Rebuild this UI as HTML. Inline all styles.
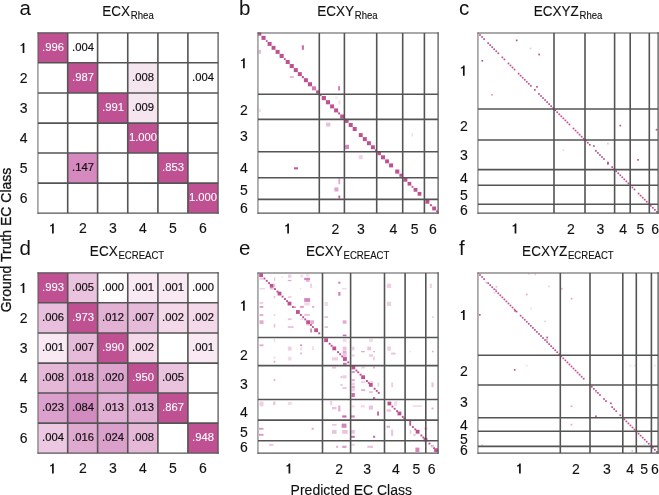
<!DOCTYPE html>
<html><head><meta charset="utf-8"><style>
html,body{margin:0;padding:0;background:#fff;width:659px;height:495px;overflow:hidden}
svg{display:block;will-change:transform}
text{font-family:"Liberation Sans", sans-serif}
</style></head><body>
<svg width="659" height="495" viewBox="0 0 659 495" font-family='"Liberation Sans", sans-serif'>
<rect width="659" height="495" fill="#fff"/>
<rect x="38.00" y="32.95" width="30.00" height="30.00" fill="#bf5091"/>
<rect x="68.00" y="62.95" width="30.00" height="30.00" fill="#bf5091"/>
<rect x="128.00" y="62.95" width="30.00" height="30.00" fill="#f5e5ef"/>
<rect x="98.00" y="92.95" width="30.00" height="30.00" fill="#bf5091"/>
<rect x="128.00" y="92.95" width="30.00" height="30.00" fill="#f5e5ef"/>
<rect x="128.00" y="122.95" width="30.00" height="30.00" fill="#bf5091"/>
<rect x="68.00" y="152.95" width="30.00" height="30.00" fill="#d689be"/>
<rect x="158.00" y="152.95" width="30.00" height="30.00" fill="#bf5091"/>
<rect x="188.00" y="182.95" width="30.00" height="30.00" fill="#bf5091"/>
<line x1="67.70" y1="32.90" x2="67.70" y2="213.05" stroke="#545454" stroke-width="1.6"/>
<line x1="97.60" y1="32.90" x2="97.60" y2="213.05" stroke="#545454" stroke-width="1.6"/>
<line x1="127.75" y1="32.90" x2="127.75" y2="213.05" stroke="#545454" stroke-width="1.6"/>
<line x1="157.90" y1="32.90" x2="157.90" y2="213.05" stroke="#545454" stroke-width="1.6"/>
<line x1="187.90" y1="32.90" x2="187.90" y2="213.05" stroke="#545454" stroke-width="1.6"/>
<line x1="37.95" y1="62.75" x2="218.10" y2="62.75" stroke="#545454" stroke-width="1.6"/>
<line x1="37.95" y1="92.95" x2="218.10" y2="92.95" stroke="#545454" stroke-width="1.6"/>
<line x1="37.95" y1="123.15" x2="218.10" y2="123.15" stroke="#545454" stroke-width="1.6"/>
<line x1="37.95" y1="153.05" x2="218.10" y2="153.05" stroke="#545454" stroke-width="1.6"/>
<line x1="37.95" y1="183.15" x2="218.10" y2="183.15" stroke="#545454" stroke-width="1.6"/>
<line x1="37.95" y1="32.30" x2="37.95" y2="213.75" stroke="#545454" stroke-width="0.9"/>
<line x1="218.10" y1="32.30" x2="218.10" y2="213.75" stroke="#545454" stroke-width="1.25"/>
<line x1="37.50" y1="32.90" x2="218.70" y2="32.90" stroke="#545454" stroke-width="1.15"/>
<line x1="37.50" y1="213.05" x2="218.70" y2="213.05" stroke="#545454" stroke-width="1.3"/>
<text transform="translate(53.00,50.65) scale(0.97,1)" x="0" y="0" font-size="11.6" text-anchor="middle" fill="#ffffff" stroke="#ffffff" stroke-width="0.1" >.996</text>
<text transform="translate(83.00,50.65) scale(0.97,1)" x="0" y="0" font-size="11.6" text-anchor="middle" fill="#111111" stroke="#111111" stroke-width="0.2" >.004</text>
<text transform="translate(83.00,80.65) scale(0.97,1)" x="0" y="0" font-size="11.6" text-anchor="middle" fill="#ffffff" stroke="#ffffff" stroke-width="0.1" >.987</text>
<text transform="translate(143.00,80.65) scale(0.97,1)" x="0" y="0" font-size="11.6" text-anchor="middle" fill="#111111" stroke="#111111" stroke-width="0.2" >.008</text>
<text transform="translate(203.00,80.65) scale(0.97,1)" x="0" y="0" font-size="11.6" text-anchor="middle" fill="#111111" stroke="#111111" stroke-width="0.2" >.004</text>
<text transform="translate(113.00,110.65) scale(0.97,1)" x="0" y="0" font-size="11.6" text-anchor="middle" fill="#ffffff" stroke="#ffffff" stroke-width="0.1" >.991</text>
<text transform="translate(143.00,110.65) scale(0.97,1)" x="0" y="0" font-size="11.6" text-anchor="middle" fill="#111111" stroke="#111111" stroke-width="0.2" >.009</text>
<text transform="translate(143.00,140.65) scale(0.97,1)" x="0" y="0" font-size="11.6" text-anchor="middle" fill="#ffffff" stroke="#ffffff" stroke-width="0.1" >1.000</text>
<text transform="translate(83.00,170.65) scale(0.97,1)" x="0" y="0" font-size="11.6" text-anchor="middle" fill="#111111" stroke="#111111" stroke-width="0.2" >.147</text>
<text transform="translate(173.00,170.65) scale(0.97,1)" x="0" y="0" font-size="11.6" text-anchor="middle" fill="#ffffff" stroke="#ffffff" stroke-width="0.1" >.853</text>
<text transform="translate(203.00,200.65) scale(0.97,1)" x="0" y="0" font-size="11.6" text-anchor="middle" fill="#ffffff" stroke="#ffffff" stroke-width="0.1" >1.000</text>
<path d="M22.65,53.00 L24.35,53.00 L24.35,42.90 L23.00,42.90 C22.75,44.05 21.40,44.75 20.55,45.05 L20.55,46.00 C21.30,46.00 22.55,45.75 22.65,45.35 Z" fill="#111"/>
<path d="M52.05,233.50 L53.75,233.50 L53.75,223.40 L52.40,223.40 C52.15,224.55 50.80,225.25 49.95,225.55 L49.95,226.50 C50.70,226.50 51.95,226.25 52.05,225.85 Z" fill="#111"/>
<text x="23.60" y="82.95" font-size="14" text-anchor="middle" fill="#111" stroke="#111" stroke-width="0.12" >2</text>
<text x="83.00" y="233.45" font-size="14" text-anchor="middle" fill="#111" stroke="#111" stroke-width="0.12" >2</text>
<text x="23.60" y="112.95" font-size="14" text-anchor="middle" fill="#111" stroke="#111" stroke-width="0.12" >3</text>
<text x="113.00" y="233.45" font-size="14" text-anchor="middle" fill="#111" stroke="#111" stroke-width="0.12" >3</text>
<text x="23.60" y="142.95" font-size="14" text-anchor="middle" fill="#111" stroke="#111" stroke-width="0.12" >4</text>
<text x="143.00" y="233.45" font-size="14" text-anchor="middle" fill="#111" stroke="#111" stroke-width="0.12" >4</text>
<text x="23.60" y="172.95" font-size="14" text-anchor="middle" fill="#111" stroke="#111" stroke-width="0.12" >5</text>
<text x="173.00" y="233.45" font-size="14" text-anchor="middle" fill="#111" stroke="#111" stroke-width="0.12" >5</text>
<text x="23.60" y="202.95" font-size="14" text-anchor="middle" fill="#111" stroke="#111" stroke-width="0.12" >6</text>
<text x="203.00" y="233.45" font-size="14" text-anchor="middle" fill="#111" stroke="#111" stroke-width="0.12" >6</text>
<rect x="38.00" y="272.95" width="30.00" height="30.00" fill="#bf5091"/>
<rect x="68.00" y="272.95" width="30.00" height="30.00" fill="#eac3df"/>
<rect x="98.00" y="272.95" width="30.00" height="30.00" fill="#fefcfd"/>
<rect x="128.00" y="272.95" width="30.00" height="30.00" fill="#f9e9f3"/>
<rect x="158.00" y="272.95" width="30.00" height="30.00" fill="#f9e9f3"/>
<rect x="188.00" y="272.95" width="30.00" height="30.00" fill="#fefcfd"/>
<rect x="38.00" y="302.95" width="30.00" height="30.00" fill="#e8bfdc"/>
<rect x="68.00" y="302.95" width="30.00" height="30.00" fill="#bf5091"/>
<rect x="98.00" y="302.95" width="30.00" height="30.00" fill="#e2b1d4"/>
<rect x="128.00" y="302.95" width="30.00" height="30.00" fill="#e6bbda"/>
<rect x="158.00" y="302.95" width="30.00" height="30.00" fill="#f3d9ea"/>
<rect x="188.00" y="302.95" width="30.00" height="30.00" fill="#f3d9ea"/>
<rect x="38.00" y="332.95" width="30.00" height="30.00" fill="#f9e9f3"/>
<rect x="68.00" y="332.95" width="30.00" height="30.00" fill="#e6bbda"/>
<rect x="98.00" y="332.95" width="30.00" height="30.00" fill="#bf5091"/>
<rect x="128.00" y="332.95" width="30.00" height="30.00" fill="#f3d9ea"/>
<rect x="188.00" y="332.95" width="30.00" height="30.00" fill="#f9e9f3"/>
<rect x="38.00" y="362.95" width="30.00" height="30.00" fill="#e5b8d8"/>
<rect x="68.00" y="362.95" width="30.00" height="30.00" fill="#dea7cf"/>
<rect x="98.00" y="362.95" width="30.00" height="30.00" fill="#dca5ce"/>
<rect x="128.00" y="362.95" width="30.00" height="30.00" fill="#bf5091"/>
<rect x="158.00" y="362.95" width="30.00" height="30.00" fill="#eac3df"/>
<rect x="38.00" y="392.95" width="30.00" height="30.00" fill="#dba1cc"/>
<rect x="68.00" y="392.95" width="30.00" height="30.00" fill="#d28bbf"/>
<rect x="98.00" y="392.95" width="30.00" height="30.00" fill="#e1afd3"/>
<rect x="128.00" y="392.95" width="30.00" height="30.00" fill="#e1afd3"/>
<rect x="158.00" y="392.95" width="30.00" height="30.00" fill="#bf5091"/>
<rect x="38.00" y="422.95" width="30.00" height="30.00" fill="#ecc8e2"/>
<rect x="68.00" y="422.95" width="30.00" height="30.00" fill="#dfaad0"/>
<rect x="98.00" y="422.95" width="30.00" height="30.00" fill="#daa0cb"/>
<rect x="128.00" y="422.95" width="30.00" height="30.00" fill="#e5b8d8"/>
<rect x="188.00" y="422.95" width="30.00" height="30.00" fill="#bf5091"/>
<line x1="67.70" y1="272.90" x2="67.70" y2="453.05" stroke="#545454" stroke-width="1.6"/>
<line x1="97.60" y1="272.90" x2="97.60" y2="453.05" stroke="#545454" stroke-width="1.6"/>
<line x1="127.75" y1="272.90" x2="127.75" y2="453.05" stroke="#545454" stroke-width="1.6"/>
<line x1="157.90" y1="272.90" x2="157.90" y2="453.05" stroke="#545454" stroke-width="1.6"/>
<line x1="187.90" y1="272.90" x2="187.90" y2="453.05" stroke="#545454" stroke-width="1.6"/>
<line x1="37.95" y1="302.75" x2="218.10" y2="302.75" stroke="#545454" stroke-width="1.6"/>
<line x1="37.95" y1="332.95" x2="218.10" y2="332.95" stroke="#545454" stroke-width="1.6"/>
<line x1="37.95" y1="363.15" x2="218.10" y2="363.15" stroke="#545454" stroke-width="1.6"/>
<line x1="37.95" y1="393.05" x2="218.10" y2="393.05" stroke="#545454" stroke-width="1.6"/>
<line x1="37.95" y1="423.15" x2="218.10" y2="423.15" stroke="#545454" stroke-width="1.6"/>
<line x1="37.95" y1="272.30" x2="37.95" y2="453.75" stroke="#545454" stroke-width="0.9"/>
<line x1="218.10" y1="272.30" x2="218.10" y2="453.75" stroke="#545454" stroke-width="1.25"/>
<line x1="37.50" y1="272.90" x2="218.70" y2="272.90" stroke="#545454" stroke-width="1.15"/>
<line x1="37.50" y1="453.05" x2="218.70" y2="453.05" stroke="#545454" stroke-width="1.3"/>
<text transform="translate(53.00,290.65) scale(0.97,1)" x="0" y="0" font-size="11.6" text-anchor="middle" fill="#ffffff" stroke="#ffffff" stroke-width="0.1" >.993</text>
<text transform="translate(83.00,290.65) scale(0.97,1)" x="0" y="0" font-size="11.6" text-anchor="middle" fill="#111111" stroke="#111111" stroke-width="0.2" >.005</text>
<text transform="translate(113.00,290.65) scale(0.97,1)" x="0" y="0" font-size="11.6" text-anchor="middle" fill="#111111" stroke="#111111" stroke-width="0.2" >.000</text>
<text transform="translate(143.00,290.65) scale(0.97,1)" x="0" y="0" font-size="11.6" text-anchor="middle" fill="#111111" stroke="#111111" stroke-width="0.2" >.001</text>
<text transform="translate(173.00,290.65) scale(0.97,1)" x="0" y="0" font-size="11.6" text-anchor="middle" fill="#111111" stroke="#111111" stroke-width="0.2" >.001</text>
<text transform="translate(203.00,290.65) scale(0.97,1)" x="0" y="0" font-size="11.6" text-anchor="middle" fill="#111111" stroke="#111111" stroke-width="0.2" >.000</text>
<text transform="translate(53.00,320.65) scale(0.97,1)" x="0" y="0" font-size="11.6" text-anchor="middle" fill="#111111" stroke="#111111" stroke-width="0.2" >.006</text>
<text transform="translate(83.00,320.65) scale(0.97,1)" x="0" y="0" font-size="11.6" text-anchor="middle" fill="#ffffff" stroke="#ffffff" stroke-width="0.1" >.973</text>
<text transform="translate(113.00,320.65) scale(0.97,1)" x="0" y="0" font-size="11.6" text-anchor="middle" fill="#111111" stroke="#111111" stroke-width="0.2" >.012</text>
<text transform="translate(143.00,320.65) scale(0.97,1)" x="0" y="0" font-size="11.6" text-anchor="middle" fill="#111111" stroke="#111111" stroke-width="0.2" >.007</text>
<text transform="translate(173.00,320.65) scale(0.97,1)" x="0" y="0" font-size="11.6" text-anchor="middle" fill="#111111" stroke="#111111" stroke-width="0.2" >.002</text>
<text transform="translate(203.00,320.65) scale(0.97,1)" x="0" y="0" font-size="11.6" text-anchor="middle" fill="#111111" stroke="#111111" stroke-width="0.2" >.002</text>
<text transform="translate(53.00,350.65) scale(0.97,1)" x="0" y="0" font-size="11.6" text-anchor="middle" fill="#111111" stroke="#111111" stroke-width="0.2" >.001</text>
<text transform="translate(83.00,350.65) scale(0.97,1)" x="0" y="0" font-size="11.6" text-anchor="middle" fill="#111111" stroke="#111111" stroke-width="0.2" >.007</text>
<text transform="translate(113.00,350.65) scale(0.97,1)" x="0" y="0" font-size="11.6" text-anchor="middle" fill="#ffffff" stroke="#ffffff" stroke-width="0.1" >.990</text>
<text transform="translate(143.00,350.65) scale(0.97,1)" x="0" y="0" font-size="11.6" text-anchor="middle" fill="#111111" stroke="#111111" stroke-width="0.2" >.002</text>
<text transform="translate(203.00,350.65) scale(0.97,1)" x="0" y="0" font-size="11.6" text-anchor="middle" fill="#111111" stroke="#111111" stroke-width="0.2" >.001</text>
<text transform="translate(53.00,380.65) scale(0.97,1)" x="0" y="0" font-size="11.6" text-anchor="middle" fill="#111111" stroke="#111111" stroke-width="0.2" >.008</text>
<text transform="translate(83.00,380.65) scale(0.97,1)" x="0" y="0" font-size="11.6" text-anchor="middle" fill="#111111" stroke="#111111" stroke-width="0.2" >.018</text>
<text transform="translate(113.00,380.65) scale(0.97,1)" x="0" y="0" font-size="11.6" text-anchor="middle" fill="#111111" stroke="#111111" stroke-width="0.2" >.020</text>
<text transform="translate(143.00,380.65) scale(0.97,1)" x="0" y="0" font-size="11.6" text-anchor="middle" fill="#ffffff" stroke="#ffffff" stroke-width="0.1" >.950</text>
<text transform="translate(173.00,380.65) scale(0.97,1)" x="0" y="0" font-size="11.6" text-anchor="middle" fill="#111111" stroke="#111111" stroke-width="0.2" >.005</text>
<text transform="translate(53.00,410.65) scale(0.97,1)" x="0" y="0" font-size="11.6" text-anchor="middle" fill="#111111" stroke="#111111" stroke-width="0.2" >.023</text>
<text transform="translate(83.00,410.65) scale(0.97,1)" x="0" y="0" font-size="11.6" text-anchor="middle" fill="#111111" stroke="#111111" stroke-width="0.2" >.084</text>
<text transform="translate(113.00,410.65) scale(0.97,1)" x="0" y="0" font-size="11.6" text-anchor="middle" fill="#111111" stroke="#111111" stroke-width="0.2" >.013</text>
<text transform="translate(143.00,410.65) scale(0.97,1)" x="0" y="0" font-size="11.6" text-anchor="middle" fill="#111111" stroke="#111111" stroke-width="0.2" >.013</text>
<text transform="translate(173.00,410.65) scale(0.97,1)" x="0" y="0" font-size="11.6" text-anchor="middle" fill="#ffffff" stroke="#ffffff" stroke-width="0.1" >.867</text>
<text transform="translate(53.00,440.65) scale(0.97,1)" x="0" y="0" font-size="11.6" text-anchor="middle" fill="#111111" stroke="#111111" stroke-width="0.2" >.004</text>
<text transform="translate(83.00,440.65) scale(0.97,1)" x="0" y="0" font-size="11.6" text-anchor="middle" fill="#111111" stroke="#111111" stroke-width="0.2" >.016</text>
<text transform="translate(113.00,440.65) scale(0.97,1)" x="0" y="0" font-size="11.6" text-anchor="middle" fill="#111111" stroke="#111111" stroke-width="0.2" >.024</text>
<text transform="translate(143.00,440.65) scale(0.97,1)" x="0" y="0" font-size="11.6" text-anchor="middle" fill="#111111" stroke="#111111" stroke-width="0.2" >.008</text>
<text transform="translate(203.00,440.65) scale(0.97,1)" x="0" y="0" font-size="11.6" text-anchor="middle" fill="#ffffff" stroke="#ffffff" stroke-width="0.1" >.948</text>
<path d="M22.65,293.00 L24.35,293.00 L24.35,282.90 L23.00,282.90 C22.75,284.05 21.40,284.75 20.55,285.05 L20.55,286.00 C21.30,286.00 22.55,285.75 22.65,285.35 Z" fill="#111"/>
<path d="M52.05,473.50 L53.75,473.50 L53.75,463.40 L52.40,463.40 C52.15,464.55 50.80,465.25 49.95,465.55 L49.95,466.50 C50.70,466.50 51.95,466.25 52.05,465.85 Z" fill="#111"/>
<text x="23.60" y="322.95" font-size="14" text-anchor="middle" fill="#111" stroke="#111" stroke-width="0.12" >2</text>
<text x="83.00" y="473.45" font-size="14" text-anchor="middle" fill="#111" stroke="#111" stroke-width="0.12" >2</text>
<text x="23.60" y="352.95" font-size="14" text-anchor="middle" fill="#111" stroke="#111" stroke-width="0.12" >3</text>
<text x="113.00" y="473.45" font-size="14" text-anchor="middle" fill="#111" stroke="#111" stroke-width="0.12" >3</text>
<text x="23.60" y="382.95" font-size="14" text-anchor="middle" fill="#111" stroke="#111" stroke-width="0.12" >4</text>
<text x="143.00" y="473.45" font-size="14" text-anchor="middle" fill="#111" stroke="#111" stroke-width="0.12" >4</text>
<text x="23.60" y="412.95" font-size="14" text-anchor="middle" fill="#111" stroke="#111" stroke-width="0.12" >5</text>
<text x="173.00" y="473.45" font-size="14" text-anchor="middle" fill="#111" stroke="#111" stroke-width="0.12" >5</text>
<text x="23.60" y="442.95" font-size="14" text-anchor="middle" fill="#111" stroke="#111" stroke-width="0.12" >6</text>
<text x="203.00" y="473.45" font-size="14" text-anchor="middle" fill="#111" stroke="#111" stroke-width="0.12" >6</text>
<rect x="258.20" y="32.50" width="3.10" height="3.10" fill="#bf5091"/>
<rect x="261.50" y="35.80" width="4.10" height="4.10" fill="#bf5091"/>
<rect x="265.90" y="40.20" width="1.70" height="1.70" fill="#bf5091"/>
<rect x="267.60" y="41.90" width="4.00" height="4.00" fill="#bf5091"/>
<rect x="271.60" y="45.90" width="3.90" height="3.90" fill="#bf5091"/>
<rect x="275.60" y="49.90" width="4.00" height="4.00" fill="#bf5091"/>
<rect x="279.60" y="53.90" width="4.10" height="4.10" fill="#bf5091"/>
<rect x="283.90" y="58.20" width="1.80" height="1.80" fill="#bf5091"/>
<rect x="285.70" y="60.00" width="4.00" height="4.00" fill="#bf5091"/>
<rect x="289.70" y="64.00" width="4.10" height="4.10" fill="#bf5091"/>
<rect x="293.80" y="68.10" width="4.00" height="4.00" fill="#bf5091"/>
<rect x="297.80" y="72.10" width="4.00" height="4.00" fill="#bf5091"/>
<rect x="301.80" y="76.10" width="2.10" height="2.10" fill="#bf5091"/>
<rect x="303.90" y="78.20" width="4.00" height="4.00" fill="#bf5091"/>
<rect x="307.90" y="82.20" width="4.10" height="4.10" fill="#bf5091"/>
<rect x="316.10" y="90.40" width="3.20" height="3.20" fill="#bf5091"/>
<rect x="319.70" y="94.00" width="1.90" height="1.90" fill="#bf5091"/>
<rect x="321.70" y="96.00" width="4.20" height="4.20" fill="#bf5091"/>
<rect x="325.90" y="100.20" width="4.10" height="4.10" fill="#bf5091"/>
<rect x="330.10" y="104.40" width="4.00" height="4.00" fill="#bf5091"/>
<rect x="334.10" y="108.40" width="4.00" height="4.00" fill="#bf5091"/>
<rect x="338.10" y="112.40" width="2.00" height="2.00" fill="#bf5091"/>
<rect x="340.20" y="114.50" width="4.10" height="4.10" fill="#bf5091"/>
<rect x="344.60" y="118.90" width="4.00" height="4.00" fill="#bf5091"/>
<rect x="348.70" y="123.00" width="4.00" height="4.00" fill="#bf5091"/>
<rect x="352.70" y="127.00" width="4.00" height="4.00" fill="#bf5091"/>
<rect x="358.80" y="133.10" width="3.90" height="3.90" fill="#bf5091"/>
<rect x="362.80" y="137.10" width="4.00" height="4.00" fill="#bf5091"/>
<rect x="366.90" y="141.20" width="4.00" height="4.00" fill="#bf5091"/>
<rect x="371.00" y="145.30" width="3.90" height="3.90" fill="#bf5091"/>
<rect x="375.00" y="149.30" width="1.80" height="1.80" fill="#bf5091"/>
<rect x="377.50" y="151.80" width="3.40" height="3.40" fill="#bf5091"/>
<rect x="381.00" y="155.30" width="4.00" height="4.00" fill="#bf5091"/>
<rect x="385.10" y="159.40" width="3.90" height="3.90" fill="#bf5091"/>
<rect x="389.10" y="163.40" width="4.00" height="4.00" fill="#bf5091"/>
<rect x="395.20" y="169.50" width="4.10" height="4.10" fill="#bf5091"/>
<rect x="399.40" y="173.70" width="3.10" height="3.10" fill="#bf5091"/>
<rect x="403.40" y="177.70" width="4.00" height="4.00" fill="#bf5091"/>
<rect x="407.60" y="181.90" width="3.70" height="3.70" fill="#bf5091"/>
<rect x="411.60" y="185.90" width="1.80" height="1.80" fill="#bf5091"/>
<rect x="413.60" y="187.90" width="3.80" height="3.80" fill="#bf5091"/>
<rect x="417.60" y="191.90" width="3.80" height="3.80" fill="#bf5091"/>
<rect x="425.40" y="199.70" width="4.00" height="4.00" fill="#bf5091"/>
<rect x="429.90" y="204.20" width="2.00" height="2.00" fill="#bf5091"/>
<rect x="432.20" y="206.50" width="3.90" height="3.90" fill="#bf5091"/>
<rect x="436.10" y="210.40" width="1.90" height="1.90" fill="#bf5091"/>
<rect x="312.00" y="86.30" width="4.10" height="4.10" fill="#d27ab5"/>
<rect x="258.70" y="49.80" width="2.40" height="4.00" fill="#eab8d8"/>
<rect x="301.80" y="45.30" width="2.10" height="4.50" fill="#cc6aa8"/>
<rect x="289.70" y="76.10" width="4.10" height="1.80" fill="#e8b5d6"/>
<rect x="338.20" y="86.20" width="1.80" height="4.30" fill="#cf74ae"/>
<rect x="334.80" y="96.50" width="2.80" height="2.80" fill="#f6e9f2"/>
<rect x="338.50" y="100.20" width="1.80" height="4.20" fill="#f2dcea"/>
<rect x="326.10" y="122.60" width="4.30" height="3.90" fill="#e9c0dc"/>
<rect x="258.80" y="108.80" width="1.80" height="3.20" fill="#f3dbe9"/>
<rect x="294.00" y="167.30" width="4.00" height="2.10" fill="#c75b9e"/>
<rect x="345.10" y="144.80" width="3.90" height="4.30" fill="#d88ac0"/>
<rect x="358.70" y="155.20" width="4.00" height="4.00" fill="#f0d3e6"/>
<rect x="338.40" y="178.20" width="1.80" height="6.00" fill="#e3a9d1"/>
<rect x="334.40" y="187.50" width="4.00" height="4.00" fill="#e0a3ce"/>
<rect x="338.40" y="195.50" width="1.80" height="2.90" fill="#c65ba0"/>
<rect x="411.50" y="133.00" width="1.50" height="3.60" fill="#f5e1ee"/>
<line x1="319.30" y1="32.95" x2="319.30" y2="213.10" stroke="#545454" stroke-width="1.6"/>
<line x1="344.40" y1="32.95" x2="344.40" y2="213.10" stroke="#545454" stroke-width="1.6"/>
<line x1="376.70" y1="32.95" x2="376.70" y2="213.10" stroke="#545454" stroke-width="1.6"/>
<line x1="402.70" y1="32.95" x2="402.70" y2="213.10" stroke="#545454" stroke-width="1.6"/>
<line x1="424.40" y1="32.95" x2="424.40" y2="213.10" stroke="#545454" stroke-width="1.6"/>
<line x1="257.95" y1="94.30" x2="438.10" y2="94.30" stroke="#545454" stroke-width="1.6"/>
<line x1="257.95" y1="119.40" x2="438.10" y2="119.40" stroke="#545454" stroke-width="1.6"/>
<line x1="257.95" y1="151.70" x2="438.10" y2="151.70" stroke="#545454" stroke-width="1.6"/>
<line x1="257.95" y1="177.70" x2="438.10" y2="177.70" stroke="#545454" stroke-width="1.6"/>
<line x1="257.95" y1="199.40" x2="438.10" y2="199.40" stroke="#545454" stroke-width="1.6"/>
<line x1="257.95" y1="32.35" x2="257.95" y2="213.80" stroke="#545454" stroke-width="0.9"/>
<line x1="438.10" y1="32.35" x2="438.10" y2="213.80" stroke="#545454" stroke-width="1.25"/>
<line x1="257.50" y1="32.95" x2="438.70" y2="32.95" stroke="#545454" stroke-width="1.15"/>
<line x1="257.50" y1="213.10" x2="438.70" y2="213.10" stroke="#545454" stroke-width="1.3"/>
<path d="M243.05,68.25 L244.75,68.25 L244.75,58.15 L243.40,58.15 C243.15,59.30 241.80,60.00 240.95,60.30 L240.95,61.25 C241.70,61.25 242.95,61.00 243.05,60.60 Z" fill="#111"/>
<path d="M287.25,233.55 L288.95,233.55 L288.95,223.45 L287.60,223.45 C287.35,224.60 286.00,225.30 285.15,225.60 L285.15,226.55 C285.90,226.55 287.15,226.30 287.25,225.90 Z" fill="#111"/>
<text x="244.00" y="115.30" font-size="14" text-anchor="middle" fill="#111" stroke="#111" stroke-width="0.12" >2</text>
<text x="335.30" y="233.50" font-size="14" text-anchor="middle" fill="#111" stroke="#111" stroke-width="0.12" >2</text>
<text x="244.00" y="140.80" font-size="14" text-anchor="middle" fill="#111" stroke="#111" stroke-width="0.12" >3</text>
<text x="360.80" y="233.50" font-size="14" text-anchor="middle" fill="#111" stroke="#111" stroke-width="0.12" >3</text>
<text x="244.00" y="173.40" font-size="14" text-anchor="middle" fill="#111" stroke="#111" stroke-width="0.12" >4</text>
<text x="393.40" y="233.50" font-size="14" text-anchor="middle" fill="#111" stroke="#111" stroke-width="0.12" >4</text>
<text x="244.00" y="194.70" font-size="14" text-anchor="middle" fill="#111" stroke="#111" stroke-width="0.12" >5</text>
<text x="414.70" y="233.50" font-size="14" text-anchor="middle" fill="#111" stroke="#111" stroke-width="0.12" >5</text>
<text x="244.00" y="213.00" font-size="14" text-anchor="middle" fill="#111" stroke="#111" stroke-width="0.12" >6</text>
<text x="433.00" y="233.50" font-size="14" text-anchor="middle" fill="#111" stroke="#111" stroke-width="0.12" >6</text>
<rect x="479.15" y="34.15" width="1.70" height="1.70" fill="#bf5091"/>
<rect x="481.18" y="36.18" width="1.70" height="1.70" fill="#bf5091"/>
<rect x="483.22" y="38.22" width="1.70" height="1.70" fill="#bf5091"/>
<rect x="487.28" y="42.28" width="1.70" height="1.70" fill="#bf5091"/>
<rect x="489.31" y="44.31" width="1.70" height="1.70" fill="#bf5091"/>
<rect x="491.35" y="46.35" width="1.70" height="1.70" fill="#bf5091"/>
<rect x="493.38" y="48.38" width="1.70" height="1.70" fill="#bf5091"/>
<rect x="495.41" y="50.41" width="1.70" height="1.70" fill="#bf5091"/>
<rect x="497.45" y="52.45" width="1.70" height="1.70" fill="#bf5091"/>
<rect x="501.51" y="56.51" width="1.70" height="1.70" fill="#bf5091"/>
<rect x="503.55" y="58.55" width="1.70" height="1.70" fill="#bf5091"/>
<rect x="507.61" y="62.61" width="1.70" height="1.70" fill="#bf5091"/>
<rect x="509.64" y="64.65" width="1.70" height="1.70" fill="#bf5091"/>
<rect x="511.68" y="66.68" width="1.70" height="1.70" fill="#bf5091"/>
<rect x="513.71" y="68.71" width="1.70" height="1.70" fill="#bf5091"/>
<rect x="517.78" y="72.78" width="1.70" height="1.70" fill="#bf5091"/>
<rect x="519.81" y="74.81" width="1.70" height="1.70" fill="#bf5091"/>
<rect x="521.84" y="76.84" width="1.70" height="1.70" fill="#bf5091"/>
<rect x="523.88" y="78.88" width="1.70" height="1.70" fill="#bf5091"/>
<rect x="525.91" y="80.91" width="1.70" height="1.70" fill="#bf5091"/>
<rect x="527.94" y="82.94" width="1.70" height="1.70" fill="#bf5091"/>
<rect x="529.98" y="84.97" width="1.70" height="1.70" fill="#bf5091"/>
<rect x="534.04" y="89.04" width="1.70" height="1.70" fill="#bf5091"/>
<rect x="538.11" y="93.11" width="1.70" height="1.70" fill="#bf5091"/>
<rect x="540.14" y="95.14" width="1.70" height="1.70" fill="#bf5091"/>
<rect x="542.17" y="97.17" width="1.70" height="1.70" fill="#bf5091"/>
<rect x="544.21" y="99.21" width="1.70" height="1.70" fill="#bf5091"/>
<rect x="546.24" y="101.24" width="1.70" height="1.70" fill="#bf5091"/>
<rect x="548.27" y="103.27" width="1.70" height="1.70" fill="#bf5091"/>
<rect x="550.30" y="105.31" width="1.70" height="1.70" fill="#bf5091"/>
<rect x="552.34" y="107.34" width="1.70" height="1.70" fill="#bf5091"/>
<rect x="554.37" y="109.37" width="1.70" height="1.70" fill="#bf5091"/>
<rect x="556.40" y="111.40" width="1.70" height="1.70" fill="#bf5091"/>
<rect x="558.44" y="113.44" width="1.70" height="1.70" fill="#bf5091"/>
<rect x="560.47" y="115.47" width="1.70" height="1.70" fill="#bf5091"/>
<rect x="562.50" y="117.50" width="1.70" height="1.70" fill="#bf5091"/>
<rect x="564.54" y="119.54" width="1.70" height="1.70" fill="#bf5091"/>
<rect x="566.57" y="121.57" width="1.70" height="1.70" fill="#bf5091"/>
<rect x="568.60" y="123.60" width="1.70" height="1.70" fill="#bf5091"/>
<rect x="572.67" y="127.67" width="1.70" height="1.70" fill="#bf5091"/>
<rect x="574.70" y="129.70" width="1.70" height="1.70" fill="#bf5091"/>
<rect x="576.73" y="131.73" width="1.70" height="1.70" fill="#bf5091"/>
<rect x="578.77" y="133.77" width="1.70" height="1.70" fill="#bf5091"/>
<rect x="580.80" y="135.80" width="1.70" height="1.70" fill="#bf5091"/>
<rect x="582.83" y="137.83" width="1.70" height="1.70" fill="#bf5091"/>
<rect x="584.87" y="139.87" width="1.70" height="1.70" fill="#bf5091"/>
<rect x="586.90" y="141.90" width="1.70" height="1.70" fill="#bf5091"/>
<rect x="588.93" y="143.93" width="1.70" height="1.70" fill="#bf5091"/>
<rect x="595.03" y="150.03" width="1.70" height="1.70" fill="#bf5091"/>
<rect x="597.06" y="152.06" width="1.70" height="1.70" fill="#bf5091"/>
<rect x="599.10" y="154.10" width="1.70" height="1.70" fill="#bf5091"/>
<rect x="601.13" y="156.13" width="1.70" height="1.70" fill="#bf5091"/>
<rect x="603.16" y="158.16" width="1.70" height="1.70" fill="#bf5091"/>
<rect x="607.23" y="162.23" width="1.70" height="1.70" fill="#bf5091"/>
<rect x="611.29" y="166.29" width="1.70" height="1.70" fill="#bf5091"/>
<rect x="613.33" y="168.33" width="1.70" height="1.70" fill="#bf5091"/>
<rect x="615.36" y="170.36" width="1.70" height="1.70" fill="#bf5091"/>
<rect x="617.39" y="172.39" width="1.70" height="1.70" fill="#bf5091"/>
<rect x="619.43" y="174.43" width="1.70" height="1.70" fill="#bf5091"/>
<rect x="621.46" y="176.46" width="1.70" height="1.70" fill="#bf5091"/>
<rect x="623.49" y="178.49" width="1.70" height="1.70" fill="#bf5091"/>
<rect x="625.53" y="180.53" width="1.70" height="1.70" fill="#bf5091"/>
<rect x="627.56" y="182.56" width="1.70" height="1.70" fill="#bf5091"/>
<rect x="629.59" y="184.59" width="1.70" height="1.70" fill="#bf5091"/>
<rect x="631.62" y="186.62" width="1.70" height="1.70" fill="#bf5091"/>
<rect x="633.66" y="188.66" width="1.70" height="1.70" fill="#bf5091"/>
<rect x="637.72" y="192.72" width="1.70" height="1.70" fill="#bf5091"/>
<rect x="639.76" y="194.76" width="1.70" height="1.70" fill="#bf5091"/>
<rect x="641.79" y="196.79" width="1.70" height="1.70" fill="#bf5091"/>
<rect x="643.82" y="198.82" width="1.70" height="1.70" fill="#bf5091"/>
<rect x="645.86" y="200.86" width="1.70" height="1.70" fill="#bf5091"/>
<rect x="647.89" y="202.89" width="1.70" height="1.70" fill="#bf5091"/>
<rect x="649.92" y="204.92" width="1.70" height="1.70" fill="#bf5091"/>
<rect x="651.96" y="206.96" width="1.70" height="1.70" fill="#bf5091"/>
<rect x="653.99" y="208.99" width="1.70" height="1.70" fill="#bf5091"/>
<rect x="656.02" y="211.02" width="1.70" height="1.70" fill="#bf5091"/>
<rect x="515.85" y="39.55" width="1.70" height="1.70" fill="#bf5091"/>
<rect x="529.75" y="47.65" width="1.70" height="1.70" fill="#eec5df"/>
<rect x="538.35" y="53.65" width="1.70" height="1.70" fill="#bf5091"/>
<rect x="481.45" y="59.95" width="1.70" height="1.70" fill="#bf5091"/>
<rect x="491.15" y="93.95" width="1.70" height="1.70" fill="#e29fcb"/>
<rect x="536.15" y="85.95" width="1.70" height="1.70" fill="#bf5091"/>
<rect x="619.45" y="124.75" width="1.70" height="1.70" fill="#bf5091"/>
<rect x="655.75" y="128.85" width="1.70" height="1.70" fill="#bf5091"/>
<rect x="562.55" y="149.25" width="1.70" height="1.70" fill="#f0cfe4"/>
<rect x="607.05" y="142.75" width="1.70" height="1.70" fill="#dfc6d3"/>
<rect x="637.15" y="159.05" width="1.70" height="1.70" fill="#bf5091"/>
<rect x="593.05" y="145.15" width="1.70" height="1.70" fill="#bf5091"/>
<rect x="607.10" y="161.65" width="1.60" height="3.10" fill="#bf5091"/>
<line x1="554.00" y1="32.95" x2="554.00" y2="213.10" stroke="#545454" stroke-width="1.6"/>
<line x1="585.00" y1="32.95" x2="585.00" y2="213.10" stroke="#545454" stroke-width="1.6"/>
<line x1="614.60" y1="32.95" x2="614.60" y2="213.10" stroke="#545454" stroke-width="1.6"/>
<line x1="630.20" y1="32.95" x2="630.20" y2="213.10" stroke="#545454" stroke-width="1.6"/>
<line x1="649.30" y1="32.95" x2="649.30" y2="213.10" stroke="#545454" stroke-width="1.6"/>
<line x1="477.95" y1="109.00" x2="658.10" y2="109.00" stroke="#545454" stroke-width="1.6"/>
<line x1="477.95" y1="140.00" x2="658.10" y2="140.00" stroke="#545454" stroke-width="1.6"/>
<line x1="477.95" y1="169.60" x2="658.10" y2="169.60" stroke="#545454" stroke-width="1.6"/>
<line x1="477.95" y1="185.20" x2="658.10" y2="185.20" stroke="#545454" stroke-width="1.6"/>
<line x1="477.95" y1="204.30" x2="658.10" y2="204.30" stroke="#545454" stroke-width="1.6"/>
<line x1="477.95" y1="32.35" x2="477.95" y2="213.80" stroke="#545454" stroke-width="0.9"/>
<line x1="658.10" y1="32.35" x2="658.10" y2="213.80" stroke="#545454" stroke-width="1.25"/>
<line x1="477.50" y1="32.95" x2="658.70" y2="32.95" stroke="#545454" stroke-width="1.15"/>
<line x1="477.50" y1="213.10" x2="658.70" y2="213.10" stroke="#545454" stroke-width="1.3"/>
<path d="M462.95,75.65 L464.65,75.65 L464.65,65.55 L463.30,65.55 C463.05,66.70 461.70,67.40 460.85,67.70 L460.85,68.65 C461.60,68.65 462.85,68.40 462.95,68.00 Z" fill="#111"/>
<path d="M514.65,233.55 L516.35,233.55 L516.35,223.45 L515.00,223.45 C514.75,224.60 513.40,225.30 512.55,225.60 L512.55,226.55 C513.30,226.55 514.55,226.30 514.65,225.90 Z" fill="#111"/>
<text x="463.90" y="131.00" font-size="14" text-anchor="middle" fill="#111" stroke="#111" stroke-width="0.12" >2</text>
<text x="571.00" y="233.50" font-size="14" text-anchor="middle" fill="#111" stroke="#111" stroke-width="0.12" >2</text>
<text x="463.90" y="160.40" font-size="14" text-anchor="middle" fill="#111" stroke="#111" stroke-width="0.12" >3</text>
<text x="600.40" y="233.50" font-size="14" text-anchor="middle" fill="#111" stroke="#111" stroke-width="0.12" >3</text>
<text x="463.90" y="183.20" font-size="14" text-anchor="middle" fill="#111" stroke="#111" stroke-width="0.12" >4</text>
<text x="623.20" y="233.50" font-size="14" text-anchor="middle" fill="#111" stroke="#111" stroke-width="0.12" >4</text>
<text x="463.90" y="200.30" font-size="14" text-anchor="middle" fill="#111" stroke="#111" stroke-width="0.12" >5</text>
<text x="640.30" y="233.50" font-size="14" text-anchor="middle" fill="#111" stroke="#111" stroke-width="0.12" >5</text>
<text x="463.90" y="215.20" font-size="14" text-anchor="middle" fill="#111" stroke="#111" stroke-width="0.12" >6</text>
<text x="655.20" y="233.50" font-size="14" text-anchor="middle" fill="#111" stroke="#111" stroke-width="0.12" >6</text>
<rect x="259.20" y="273.30" width="3.80" height="3.80" fill="#bf5091"/>
<rect x="269.80" y="283.90" width="3.80" height="3.80" fill="#bf5091"/>
<rect x="277.60" y="291.70" width="3.80" height="3.80" fill="#bf5091"/>
<rect x="287.60" y="301.70" width="3.80" height="3.80" fill="#bf5091"/>
<rect x="296.00" y="310.10" width="3.80" height="3.80" fill="#bf5091"/>
<rect x="306.20" y="320.30" width="3.80" height="3.80" fill="#bf5091"/>
<rect x="314.20" y="328.30" width="3.80" height="3.80" fill="#bf5091"/>
<rect x="324.20" y="338.30" width="3.80" height="3.80" fill="#bf5091"/>
<rect x="332.40" y="346.50" width="3.80" height="3.80" fill="#bf5091"/>
<rect x="343.00" y="357.10" width="3.80" height="3.80" fill="#bf5091"/>
<rect x="351.50" y="365.60" width="3.80" height="3.80" fill="#bf5091"/>
<rect x="361.20" y="375.30" width="3.80" height="3.80" fill="#bf5091"/>
<rect x="368.90" y="383.00" width="3.80" height="3.80" fill="#bf5091"/>
<rect x="387.50" y="401.60" width="3.80" height="3.80" fill="#bf5091"/>
<rect x="397.50" y="411.60" width="3.80" height="3.80" fill="#bf5091"/>
<rect x="415.70" y="429.80" width="3.80" height="3.80" fill="#bf5091"/>
<rect x="434.20" y="448.30" width="3.80" height="3.80" fill="#bf5091"/>
<rect x="263.50" y="277.60" width="1.90" height="1.90" fill="#bf5091"/>
<rect x="265.80" y="279.90" width="1.90" height="1.90" fill="#bf5091"/>
<rect x="268.10" y="282.20" width="1.90" height="1.90" fill="#bf5091"/>
<rect x="274.00" y="288.10" width="1.90" height="1.90" fill="#bf5091"/>
<rect x="276.50" y="290.60" width="1.90" height="1.90" fill="#bf5091"/>
<rect x="281.60" y="295.70" width="1.90" height="1.90" fill="#bf5091"/>
<rect x="284.00" y="298.10" width="1.90" height="1.90" fill="#bf5091"/>
<rect x="286.10" y="300.20" width="1.90" height="1.90" fill="#bf5091"/>
<rect x="292.00" y="306.10" width="1.90" height="1.90" fill="#bf5091"/>
<rect x="299.90" y="314.00" width="1.90" height="1.90" fill="#bf5091"/>
<rect x="302.20" y="316.30" width="1.90" height="1.90" fill="#bf5091"/>
<rect x="304.30" y="318.40" width="1.90" height="1.90" fill="#bf5091"/>
<rect x="309.90" y="324.00" width="1.90" height="1.90" fill="#bf5091"/>
<rect x="311.90" y="326.00" width="1.90" height="1.90" fill="#bf5091"/>
<rect x="318.30" y="332.40" width="1.90" height="1.90" fill="#bf5091"/>
<rect x="328.70" y="342.80" width="1.90" height="1.90" fill="#bf5091"/>
<rect x="330.70" y="344.80" width="1.90" height="1.90" fill="#bf5091"/>
<rect x="337.10" y="351.20" width="1.90" height="1.90" fill="#bf5091"/>
<rect x="339.20" y="353.30" width="1.90" height="1.90" fill="#bf5091"/>
<rect x="341.30" y="355.40" width="1.90" height="1.90" fill="#bf5091"/>
<rect x="347.30" y="361.40" width="1.90" height="1.90" fill="#bf5091"/>
<rect x="355.50" y="369.60" width="1.90" height="1.90" fill="#bf5091"/>
<rect x="357.30" y="371.40" width="1.90" height="1.90" fill="#bf5091"/>
<rect x="359.60" y="373.70" width="1.90" height="1.90" fill="#bf5091"/>
<rect x="366.00" y="380.10" width="1.90" height="1.90" fill="#bf5091"/>
<rect x="367.80" y="381.90" width="1.90" height="1.90" fill="#bf5091"/>
<rect x="373.70" y="387.80" width="1.90" height="1.90" fill="#bf5091"/>
<rect x="375.80" y="389.90" width="1.90" height="1.90" fill="#bf5091"/>
<rect x="377.80" y="391.90" width="1.90" height="1.90" fill="#bf5091"/>
<rect x="391.50" y="405.60" width="1.90" height="1.90" fill="#bf5091"/>
<rect x="393.70" y="407.80" width="1.90" height="1.90" fill="#bf5091"/>
<rect x="396.10" y="410.20" width="1.90" height="1.90" fill="#bf5091"/>
<rect x="401.80" y="415.90" width="1.90" height="1.90" fill="#bf5091"/>
<rect x="403.40" y="417.50" width="1.90" height="1.90" fill="#bf5091"/>
<rect x="411.90" y="426.00" width="1.90" height="1.90" fill="#bf5091"/>
<rect x="414.30" y="428.40" width="1.90" height="1.90" fill="#bf5091"/>
<rect x="420.40" y="434.50" width="1.90" height="1.90" fill="#bf5091"/>
<rect x="422.40" y="436.50" width="1.90" height="1.90" fill="#bf5091"/>
<rect x="425.40" y="439.50" width="1.90" height="1.90" fill="#bf5091"/>
<rect x="428.50" y="442.60" width="1.90" height="1.90" fill="#bf5091"/>
<rect x="430.90" y="445.00" width="1.90" height="1.90" fill="#bf5091"/>
<rect x="433.10" y="447.20" width="1.90" height="1.90" fill="#bf5091"/>
<rect x="259.50" y="278.10" width="3.60" height="1.50" fill="#ebc3de"/>
<rect x="274.00" y="277.50" width="1.30" height="3.30" fill="#ebc3de"/>
<rect x="287.80" y="274.50" width="3.70" height="3.30" fill="#efcfe3"/>
<rect x="287.80" y="279.90" width="3.70" height="1.30" fill="#e3a9cf"/>
<rect x="259.60" y="288.10" width="5.50" height="1.30" fill="#efcfe3"/>
<rect x="273.70" y="283.70" width="1.60" height="3.20" fill="#ebc3de"/>
<rect x="273.70" y="296.30" width="1.60" height="1.50" fill="#e3a9cf"/>
<rect x="287.80" y="296.30" width="3.70" height="1.50" fill="#ebc3de"/>
<rect x="259.60" y="301.90" width="3.70" height="2.00" fill="#efcfe3"/>
<rect x="259.60" y="306.00" width="3.70" height="1.80" fill="#dc9cc9"/>
<rect x="259.60" y="314.10" width="3.70" height="1.80" fill="#e3a9cf"/>
<rect x="273.70" y="314.10" width="1.60" height="1.80" fill="#efcfe3"/>
<rect x="292.40" y="306.60" width="3.60" height="1.10" fill="#cd6cac"/>
<rect x="269.80" y="288.10" width="3.90" height="1.50" fill="#ebc3de"/>
<rect x="281.60" y="276.00" width="1.30" height="1.40" fill="#f3dcea"/>
<rect x="300.00" y="288.00" width="1.20" height="1.40" fill="#f3dcea"/>
<rect x="282.50" y="302.80" width="1.30" height="1.40" fill="#f3dcea"/>
<rect x="300.30" y="274.60" width="3.00" height="2.80" fill="#f3dcea"/>
<rect x="306.00" y="274.20" width="3.60" height="2.30" fill="#f3dcea"/>
<rect x="304.20" y="277.80" width="5.80" height="2.30" fill="#d386bc"/>
<rect x="306.00" y="280.10" width="3.60" height="1.60" fill="#e3a9cf"/>
<rect x="310.30" y="283.70" width="1.50" height="4.10" fill="#ebc3de"/>
<rect x="304.20" y="298.10" width="5.80" height="3.80" fill="#d386bc"/>
<rect x="304.20" y="302.40" width="5.80" height="3.10" fill="#f3dcea"/>
<rect x="300.00" y="306.00" width="3.90" height="1.80" fill="#dc9cc9"/>
<rect x="312.10" y="306.00" width="2.10" height="1.80" fill="#e3a9cf"/>
<rect x="304.20" y="314.20" width="5.80" height="1.80" fill="#efcfe3"/>
<rect x="338.20" y="281.70" width="2.30" height="2.00" fill="#d386bc"/>
<rect x="338.20" y="291.90" width="2.30" height="3.80" fill="#d386bc"/>
<rect x="324.40" y="301.90" width="3.60" height="4.10" fill="#f3dcea"/>
<rect x="342.00" y="288.00" width="4.80" height="1.40" fill="#f3dcea"/>
<rect x="386.90" y="283.70" width="4.20" height="4.30" fill="#efcfe3"/>
<rect x="386.90" y="301.70" width="4.20" height="4.20" fill="#efcfe3"/>
<rect x="429.80" y="283.70" width="2.00" height="4.30" fill="#efcfe3"/>
<rect x="431.80" y="316.10" width="2.00" height="1.80" fill="#f3dcea"/>
<rect x="287.80" y="318.30" width="3.80" height="1.80" fill="#ebc3de"/>
<rect x="273.70" y="323.90" width="1.60" height="3.80" fill="#ebc3de"/>
<rect x="259.50" y="320.30" width="4.00" height="3.60" fill="#e3a9cf"/>
<rect x="287.80" y="326.20" width="5.90" height="1.80" fill="#ebc3de"/>
<rect x="273.70" y="338.90" width="1.60" height="3.20" fill="#f3dcea"/>
<rect x="259.50" y="344.40" width="4.00" height="1.80" fill="#e3a9cf"/>
<rect x="287.80" y="346.60" width="3.80" height="3.90" fill="#efcfe3"/>
<rect x="304.40" y="313.90" width="5.40" height="1.60" fill="#ebc3de"/>
<rect x="300.30" y="318.50" width="3.20" height="1.30" fill="#efcfe3"/>
<rect x="310.30" y="320.30" width="3.60" height="3.60" fill="#e3a9cf"/>
<rect x="306.20" y="323.90" width="3.60" height="1.60" fill="#ebc3de"/>
<rect x="310.30" y="328.50" width="1.50" height="4.00" fill="#cd6cac"/>
<rect x="324.40" y="316.20" width="3.60" height="1.80" fill="#ebc3de"/>
<rect x="324.40" y="326.20" width="3.60" height="1.80" fill="#ebc3de"/>
<rect x="300.30" y="344.40" width="1.50" height="1.80" fill="#cd6cac"/>
<rect x="300.30" y="347.50" width="1.50" height="2.80" fill="#efcfe3"/>
<rect x="300.30" y="352.50" width="1.50" height="1.90" fill="#e3a9cf"/>
<rect x="312.10" y="346.20" width="1.80" height="4.10" fill="#f3dcea"/>
<rect x="342.70" y="320.30" width="3.80" height="3.40" fill="#e3a9cf"/>
<rect x="342.70" y="334.60" width="3.80" height="1.60" fill="#cd6cac"/>
<rect x="342.70" y="338.90" width="3.80" height="3.20" fill="#f3dcea"/>
<rect x="342.70" y="346.60" width="3.80" height="3.70" fill="#ebc3de"/>
<rect x="342.70" y="350.70" width="3.80" height="3.20" fill="#e3a9cf"/>
<rect x="342.70" y="356.50" width="3.80" height="1.50" fill="#cd6cac"/>
<rect x="351.80" y="346.60" width="2.70" height="3.70" fill="#efcfe3"/>
<rect x="351.80" y="354.40" width="2.70" height="2.20" fill="#efcfe3"/>
<rect x="369.10" y="338.50" width="3.80" height="3.60" fill="#f3dcea"/>
<rect x="367.30" y="346.60" width="3.60" height="3.70" fill="#ebc3de"/>
<rect x="361.10" y="351.00" width="3.60" height="1.30" fill="#e3a9cf"/>
<rect x="373.20" y="351.00" width="1.80" height="1.30" fill="#e3a9cf"/>
<rect x="369.10" y="354.40" width="3.80" height="2.10" fill="#ebc3de"/>
<rect x="387.30" y="346.40" width="3.50" height="4.30" fill="#efcfe3"/>
<rect x="391.10" y="352.60" width="4.40" height="2.00" fill="#ebc3de"/>
<rect x="432.00" y="316.50" width="1.50" height="1.50" fill="#efcfe3"/>
<rect x="432.00" y="350.80" width="1.50" height="1.50" fill="#e3a9cf"/>
<rect x="273.70" y="356.40" width="1.60" height="2.70" fill="#f3dcea"/>
<rect x="273.70" y="360.90" width="1.60" height="1.80" fill="#e3a9cf"/>
<rect x="287.80" y="356.80" width="3.80" height="3.70" fill="#f3dcea"/>
<rect x="273.70" y="379.10" width="1.60" height="1.80" fill="#e3a9cf"/>
<rect x="332.10" y="357.30" width="5.90" height="3.20" fill="#efcfe3"/>
<rect x="332.10" y="366.60" width="4.10" height="2.00" fill="#ebc3de"/>
<rect x="343.00" y="353.00" width="3.60" height="3.60" fill="#ebc3de"/>
<rect x="343.00" y="362.80" width="3.60" height="2.00" fill="#cd6cac"/>
<rect x="361.20" y="366.60" width="3.90" height="1.90" fill="#efcfe3"/>
<rect x="368.90" y="354.80" width="3.20" height="1.80" fill="#efcfe3"/>
<rect x="373.00" y="356.60" width="1.80" height="3.70" fill="#efcfe3"/>
<rect x="373.00" y="366.60" width="1.80" height="1.90" fill="#e3a9cf"/>
<rect x="351.60" y="371.20" width="3.20" height="1.60" fill="#d386bc"/>
<rect x="342.50" y="375.30" width="4.10" height="3.20" fill="#efcfe3"/>
<rect x="351.60" y="379.20" width="3.20" height="2.00" fill="#e3a9cf"/>
<rect x="351.60" y="382.50" width="3.20" height="3.00" fill="#efcfe3"/>
<rect x="351.60" y="386.00" width="3.20" height="2.50" fill="#e3a9cf"/>
<rect x="351.60" y="389.00" width="3.20" height="2.50" fill="#efcfe3"/>
<rect x="361.20" y="381.40" width="3.90" height="1.40" fill="#ebc3de"/>
<rect x="361.20" y="389.20" width="3.90" height="1.80" fill="#e3a9cf"/>
<rect x="368.90" y="391.20" width="4.10" height="1.80" fill="#ebc3de"/>
<rect x="369.40" y="381.20" width="3.60" height="1.80" fill="#efcfe3"/>
<rect x="342.50" y="387.10" width="4.10" height="1.80" fill="#ebc3de"/>
<rect x="351.50" y="393.00" width="3.30" height="4.10" fill="#cd6cac"/>
<rect x="391.20" y="382.40" width="1.90" height="4.90" fill="#efcfe3"/>
<rect x="431.50" y="382.40" width="2.10" height="4.90" fill="#ebc3de"/>
<rect x="394.50" y="401.20" width="2.50" height="4.80" fill="#f3dcea"/>
<rect x="387.30" y="409.70" width="3.90" height="1.80" fill="#ebc3de"/>
<rect x="412.70" y="405.10" width="9.10" height="1.90" fill="#f3dcea"/>
<rect x="431.50" y="407.60" width="2.00" height="1.80" fill="#e3a9cf"/>
<rect x="340.50" y="376.00" width="2.00" height="2.00" fill="#ebc3de"/>
<rect x="340.50" y="384.00" width="2.00" height="2.00" fill="#ebc3de"/>
<rect x="259.60" y="401.50" width="3.90" height="4.80" fill="#efcfe3"/>
<rect x="273.20" y="401.50" width="2.20" height="3.60" fill="#ebc3de"/>
<rect x="287.80" y="402.00" width="4.00" height="3.10" fill="#f3dcea"/>
<rect x="259.00" y="427.80" width="4.50" height="1.90" fill="#dc9cc9"/>
<rect x="259.00" y="433.80" width="4.50" height="2.00" fill="#dc9cc9"/>
<rect x="269.10" y="443.90" width="4.50" height="1.80" fill="#ebc3de"/>
<rect x="330.10" y="400.80" width="2.10" height="4.30" fill="#efcfe3"/>
<rect x="332.00" y="406.90" width="4.50" height="2.40" fill="#ebc3de"/>
<rect x="338.20" y="405.50" width="2.20" height="6.00" fill="#e3a9cf"/>
<rect x="342.20" y="415.40" width="4.30" height="2.20" fill="#cd6cac"/>
<rect x="332.00" y="424.10" width="4.50" height="1.60" fill="#ebc3de"/>
<rect x="341.60" y="423.60" width="4.90" height="4.20" fill="#d386bc"/>
<rect x="311.60" y="427.80" width="2.20" height="1.90" fill="#e3a9cf"/>
<rect x="332.00" y="430.00" width="4.50" height="3.80" fill="#ebc3de"/>
<rect x="342.20" y="430.00" width="5.50" height="3.80" fill="#ebc3de"/>
<rect x="336.20" y="445.70" width="1.80" height="2.20" fill="#e3a9cf"/>
<rect x="342.20" y="445.70" width="4.30" height="2.20" fill="#dc9cc9"/>
<rect x="373.00" y="397.00" width="2.20" height="2.00" fill="#cd6cac"/>
<rect x="351.50" y="405.10" width="3.00" height="2.40" fill="#f3dcea"/>
<rect x="360.60" y="405.10" width="4.20" height="2.40" fill="#f3dcea"/>
<rect x="368.80" y="405.50" width="4.20" height="4.10" fill="#ebc3de"/>
<rect x="377.00" y="411.50" width="2.00" height="4.10" fill="#cd6cac"/>
<rect x="350.90" y="415.40" width="3.90" height="2.20" fill="#d386bc"/>
<rect x="386.70" y="409.30" width="3.30" height="2.20" fill="#ebc3de"/>
<rect x="386.70" y="425.70" width="3.30" height="2.10" fill="#e3a9cf"/>
<rect x="351.20" y="430.00" width="3.60" height="3.80" fill="#ebc3de"/>
<rect x="350.90" y="435.80" width="3.90" height="2.00" fill="#cd6cac"/>
<rect x="373.00" y="435.80" width="2.20" height="2.00" fill="#cd6cac"/>
<rect x="351.20" y="443.90" width="3.60" height="1.80" fill="#efcfe3"/>
<rect x="367.30" y="445.70" width="5.70" height="2.20" fill="#ebc3de"/>
<rect x="394.10" y="401.50" width="3.10" height="4.20" fill="#f3dcea"/>
<rect x="391.10" y="429.70" width="2.10" height="6.10" fill="#ebc3de"/>
<rect x="409.70" y="430.00" width="1.70" height="3.90" fill="#efcfe3"/>
<rect x="413.30" y="433.90" width="2.40" height="1.90" fill="#ebc3de"/>
<rect x="423.90" y="427.80" width="3.60" height="1.90" fill="#efcfe3"/>
<rect x="415.40" y="447.60" width="4.00" height="4.50" fill="#d386bc"/>
<rect x="431.10" y="445.20" width="3.10" height="2.30" fill="#ebc3de"/>
<rect x="409.30" y="420.90" width="1.80" height="4.80" fill="#bf5091"/>
<rect x="423.60" y="437.80" width="3.80" height="3.60" fill="#bf5091"/>
<rect x="409.50" y="350.80" width="1.50" height="1.50" fill="#f3dcea"/>
<rect x="377.50" y="382.50" width="1.80" height="4.00" fill="#efcfe3"/>
<line x1="322.50" y1="272.95" x2="322.50" y2="453.10" stroke="#545454" stroke-width="1.6"/>
<line x1="350.60" y1="272.95" x2="350.60" y2="453.10" stroke="#545454" stroke-width="1.6"/>
<line x1="384.50" y1="272.95" x2="384.50" y2="453.10" stroke="#545454" stroke-width="1.6"/>
<line x1="405.10" y1="272.95" x2="405.10" y2="453.10" stroke="#545454" stroke-width="1.6"/>
<line x1="425.80" y1="272.95" x2="425.80" y2="453.10" stroke="#545454" stroke-width="1.6"/>
<line x1="257.95" y1="337.50" x2="438.10" y2="337.50" stroke="#545454" stroke-width="1.6"/>
<line x1="257.95" y1="365.60" x2="438.10" y2="365.60" stroke="#545454" stroke-width="1.6"/>
<line x1="257.95" y1="399.50" x2="438.10" y2="399.50" stroke="#545454" stroke-width="1.6"/>
<line x1="257.95" y1="420.10" x2="438.10" y2="420.10" stroke="#545454" stroke-width="1.6"/>
<line x1="257.95" y1="440.80" x2="438.10" y2="440.80" stroke="#545454" stroke-width="1.6"/>
<line x1="257.95" y1="272.35" x2="257.95" y2="453.80" stroke="#545454" stroke-width="0.9"/>
<line x1="438.10" y1="272.35" x2="438.10" y2="453.80" stroke="#545454" stroke-width="1.25"/>
<line x1="257.50" y1="272.95" x2="438.70" y2="272.95" stroke="#545454" stroke-width="1.15"/>
<line x1="257.50" y1="453.10" x2="438.70" y2="453.10" stroke="#545454" stroke-width="1.3"/>
<path d="M243.05,310.65 L244.75,310.65 L244.75,300.55 L243.40,300.55 C243.15,301.70 241.80,302.40 240.95,302.70 L240.95,303.65 C241.70,303.65 242.95,303.40 243.05,303.00 Z" fill="#111"/>
<path d="M288.55,473.55 L290.25,473.55 L290.25,463.45 L288.90,463.45 C288.65,464.60 287.30,465.30 286.45,465.60 L286.45,466.55 C287.20,466.55 288.45,466.30 288.55,465.90 Z" fill="#111"/>
<text x="244.00" y="359.50" font-size="14" text-anchor="middle" fill="#111" stroke="#111" stroke-width="0.12" >2</text>
<text x="339.20" y="473.50" font-size="14" text-anchor="middle" fill="#111" stroke="#111" stroke-width="0.12" >2</text>
<text x="244.00" y="388.50" font-size="14" text-anchor="middle" fill="#111" stroke="#111" stroke-width="0.12" >3</text>
<text x="367.10" y="473.50" font-size="14" text-anchor="middle" fill="#111" stroke="#111" stroke-width="0.12" >3</text>
<text x="244.00" y="416.80" font-size="14" text-anchor="middle" fill="#111" stroke="#111" stroke-width="0.12" >4</text>
<text x="396.00" y="473.50" font-size="14" text-anchor="middle" fill="#111" stroke="#111" stroke-width="0.12" >4</text>
<text x="244.00" y="437.40" font-size="14" text-anchor="middle" fill="#111" stroke="#111" stroke-width="0.12" >5</text>
<text x="416.40" y="473.50" font-size="14" text-anchor="middle" fill="#111" stroke="#111" stroke-width="0.12" >5</text>
<text x="244.00" y="452.10" font-size="14" text-anchor="middle" fill="#111" stroke="#111" stroke-width="0.12" >6</text>
<text x="431.60" y="473.50" font-size="14" text-anchor="middle" fill="#111" stroke="#111" stroke-width="0.12" >6</text>
<rect x="479.15" y="274.15" width="1.70" height="1.70" fill="#bf5091"/>
<rect x="481.18" y="276.18" width="1.70" height="1.70" fill="#bf5091"/>
<rect x="483.22" y="278.22" width="1.70" height="1.70" fill="#bf5091"/>
<rect x="487.28" y="282.28" width="1.70" height="1.70" fill="#bf5091"/>
<rect x="489.31" y="284.31" width="1.70" height="1.70" fill="#bf5091"/>
<rect x="491.35" y="286.35" width="1.70" height="1.70" fill="#bf5091"/>
<rect x="493.38" y="288.38" width="1.70" height="1.70" fill="#bf5091"/>
<rect x="495.41" y="290.41" width="1.70" height="1.70" fill="#bf5091"/>
<rect x="497.45" y="292.45" width="1.70" height="1.70" fill="#bf5091"/>
<rect x="499.48" y="294.48" width="1.70" height="1.70" fill="#bf5091"/>
<rect x="501.51" y="296.51" width="1.70" height="1.70" fill="#bf5091"/>
<rect x="503.55" y="298.55" width="1.70" height="1.70" fill="#bf5091"/>
<rect x="505.58" y="300.58" width="1.70" height="1.70" fill="#bf5091"/>
<rect x="507.61" y="302.61" width="1.70" height="1.70" fill="#bf5091"/>
<rect x="509.64" y="304.64" width="1.70" height="1.70" fill="#bf5091"/>
<rect x="511.68" y="306.68" width="1.70" height="1.70" fill="#bf5091"/>
<rect x="513.71" y="308.71" width="1.70" height="1.70" fill="#bf5091"/>
<rect x="515.74" y="310.74" width="1.70" height="1.70" fill="#bf5091"/>
<rect x="519.81" y="314.81" width="1.70" height="1.70" fill="#bf5091"/>
<rect x="521.84" y="316.84" width="1.70" height="1.70" fill="#bf5091"/>
<rect x="523.88" y="318.88" width="1.70" height="1.70" fill="#bf5091"/>
<rect x="525.91" y="320.91" width="1.70" height="1.70" fill="#bf5091"/>
<rect x="527.94" y="322.94" width="1.70" height="1.70" fill="#bf5091"/>
<rect x="529.98" y="324.97" width="1.70" height="1.70" fill="#bf5091"/>
<rect x="532.01" y="327.01" width="1.70" height="1.70" fill="#bf5091"/>
<rect x="534.04" y="329.04" width="1.70" height="1.70" fill="#bf5091"/>
<rect x="536.07" y="331.07" width="1.70" height="1.70" fill="#bf5091"/>
<rect x="538.11" y="333.11" width="1.70" height="1.70" fill="#bf5091"/>
<rect x="540.14" y="335.14" width="1.70" height="1.70" fill="#bf5091"/>
<rect x="542.17" y="337.17" width="1.70" height="1.70" fill="#bf5091"/>
<rect x="544.21" y="339.21" width="1.70" height="1.70" fill="#bf5091"/>
<rect x="546.24" y="341.24" width="1.70" height="1.70" fill="#bf5091"/>
<rect x="548.27" y="343.27" width="1.70" height="1.70" fill="#bf5091"/>
<rect x="550.30" y="345.30" width="1.70" height="1.70" fill="#bf5091"/>
<rect x="552.34" y="347.34" width="1.70" height="1.70" fill="#bf5091"/>
<rect x="554.37" y="349.37" width="1.70" height="1.70" fill="#bf5091"/>
<rect x="556.40" y="351.40" width="1.70" height="1.70" fill="#bf5091"/>
<rect x="558.44" y="353.44" width="1.70" height="1.70" fill="#bf5091"/>
<rect x="560.47" y="355.47" width="1.70" height="1.70" fill="#bf5091"/>
<rect x="562.50" y="357.50" width="1.70" height="1.70" fill="#bf5091"/>
<rect x="564.54" y="359.54" width="1.70" height="1.70" fill="#bf5091"/>
<rect x="566.57" y="361.57" width="1.70" height="1.70" fill="#bf5091"/>
<rect x="568.60" y="363.60" width="1.70" height="1.70" fill="#bf5091"/>
<rect x="570.63" y="365.63" width="1.70" height="1.70" fill="#bf5091"/>
<rect x="572.67" y="367.67" width="1.70" height="1.70" fill="#bf5091"/>
<rect x="574.70" y="369.70" width="1.70" height="1.70" fill="#bf5091"/>
<rect x="576.73" y="371.73" width="1.70" height="1.70" fill="#bf5091"/>
<rect x="578.77" y="373.77" width="1.70" height="1.70" fill="#bf5091"/>
<rect x="580.80" y="375.80" width="1.70" height="1.70" fill="#bf5091"/>
<rect x="582.83" y="377.83" width="1.70" height="1.70" fill="#bf5091"/>
<rect x="588.93" y="383.93" width="1.70" height="1.70" fill="#bf5091"/>
<rect x="590.97" y="385.96" width="1.70" height="1.70" fill="#bf5091"/>
<rect x="593.00" y="388.00" width="1.70" height="1.70" fill="#bf5091"/>
<rect x="595.03" y="390.03" width="1.70" height="1.70" fill="#bf5091"/>
<rect x="597.06" y="392.06" width="1.70" height="1.70" fill="#bf5091"/>
<rect x="599.10" y="394.10" width="1.70" height="1.70" fill="#bf5091"/>
<rect x="603.16" y="398.16" width="1.70" height="1.70" fill="#bf5091"/>
<rect x="605.20" y="400.20" width="1.70" height="1.70" fill="#bf5091"/>
<rect x="611.29" y="406.29" width="1.70" height="1.70" fill="#bf5091"/>
<rect x="613.33" y="408.33" width="1.70" height="1.70" fill="#bf5091"/>
<rect x="615.36" y="410.36" width="1.70" height="1.70" fill="#bf5091"/>
<rect x="619.43" y="414.43" width="1.70" height="1.70" fill="#bf5091"/>
<rect x="623.49" y="418.49" width="1.70" height="1.70" fill="#bf5091"/>
<rect x="625.53" y="420.53" width="1.70" height="1.70" fill="#bf5091"/>
<rect x="627.56" y="422.56" width="1.70" height="1.70" fill="#bf5091"/>
<rect x="629.59" y="424.59" width="1.70" height="1.70" fill="#bf5091"/>
<rect x="631.62" y="426.62" width="1.70" height="1.70" fill="#bf5091"/>
<rect x="633.66" y="428.66" width="1.70" height="1.70" fill="#bf5091"/>
<rect x="635.69" y="430.69" width="1.70" height="1.70" fill="#bf5091"/>
<rect x="637.72" y="432.72" width="1.70" height="1.70" fill="#bf5091"/>
<rect x="639.76" y="434.76" width="1.70" height="1.70" fill="#bf5091"/>
<rect x="641.79" y="436.79" width="1.70" height="1.70" fill="#bf5091"/>
<rect x="643.82" y="438.82" width="1.70" height="1.70" fill="#bf5091"/>
<rect x="645.86" y="440.86" width="1.70" height="1.70" fill="#bf5091"/>
<rect x="647.89" y="442.89" width="1.70" height="1.70" fill="#bf5091"/>
<rect x="649.92" y="444.92" width="1.70" height="1.70" fill="#bf5091"/>
<rect x="651.96" y="446.95" width="1.70" height="1.70" fill="#bf5091"/>
<rect x="653.99" y="448.99" width="1.70" height="1.70" fill="#bf5091"/>
<rect x="656.02" y="451.02" width="1.70" height="1.70" fill="#bf5091"/>
<rect x="485.65" y="281.85" width="1.70" height="1.70" fill="#e7b3d4"/>
<rect x="495.55" y="285.95" width="1.70" height="1.70" fill="#eabbd9"/>
<rect x="494.95" y="289.05" width="1.70" height="1.70" fill="#e3a6cd"/>
<rect x="493.55" y="291.95" width="1.70" height="1.70" fill="#f0d0e4"/>
<rect x="514.35" y="310.05" width="1.70" height="1.70" fill="#bf5091"/>
<rect x="546.35" y="336.65" width="1.70" height="1.70" fill="#bf5091"/>
<rect x="530.15" y="307.75" width="1.70" height="1.70" fill="#f3dcea"/>
<rect x="544.25" y="320.55" width="1.70" height="1.70" fill="#ecd0df"/>
<rect x="528.05" y="273.25" width="1.70" height="1.70" fill="#f3dcea"/>
<rect x="534.45" y="273.55" width="1.70" height="1.70" fill="#efcfe3"/>
<rect x="548.15" y="285.65" width="1.70" height="1.70" fill="#efcfe3"/>
<rect x="525.85" y="293.65" width="1.70" height="1.70" fill="#e3a6cd"/>
<rect x="478.95" y="313.95" width="1.70" height="1.70" fill="#bf5091"/>
<rect x="560.95" y="287.85" width="1.70" height="1.70" fill="#e7b3d4"/>
<rect x="570.75" y="297.85" width="1.70" height="1.70" fill="#e0a0cb"/>
<rect x="629.65" y="364.85" width="1.70" height="1.70" fill="#f3dcea"/>
<rect x="633.85" y="364.85" width="1.70" height="1.70" fill="#f3dcea"/>
<rect x="653.95" y="364.85" width="1.70" height="1.70" fill="#f3dcea"/>
<rect x="513.85" y="369.05" width="1.70" height="1.70" fill="#bf5091"/>
<rect x="525.75" y="364.85" width="1.70" height="1.70" fill="#f3dcea"/>
<rect x="570.65" y="405.45" width="1.70" height="1.70" fill="#e0a0cb"/>
<rect x="570.65" y="423.75" width="1.70" height="1.70" fill="#e3a6cd"/>
<rect x="595.05" y="415.45" width="1.70" height="1.70" fill="#bf5091"/>
<rect x="481.35" y="443.95" width="1.70" height="1.70" fill="#efcfe3"/>
<rect x="631.45" y="450.15" width="1.70" height="1.70" fill="#eabbd9"/>
<rect x="643.65" y="443.65" width="1.70" height="1.70" fill="#f3dcea"/>
<rect x="595.15" y="391.05" width="1.70" height="1.70" fill="#e3a6cd"/>
<rect x="610.05" y="402.45" width="1.70" height="1.70" fill="#bf5091"/>
<rect x="545.95" y="339.05" width="1.70" height="1.70" fill="#e3a6cd"/>
<line x1="560.30" y1="272.95" x2="560.30" y2="453.10" stroke="#545454" stroke-width="1.6"/>
<line x1="590.00" y1="272.95" x2="590.00" y2="453.10" stroke="#545454" stroke-width="1.6"/>
<line x1="622.80" y1="272.95" x2="622.80" y2="453.10" stroke="#545454" stroke-width="1.6"/>
<line x1="636.30" y1="272.95" x2="636.30" y2="453.10" stroke="#545454" stroke-width="1.6"/>
<line x1="651.40" y1="272.95" x2="651.40" y2="453.10" stroke="#545454" stroke-width="1.6"/>
<line x1="477.95" y1="355.30" x2="658.10" y2="355.30" stroke="#545454" stroke-width="1.6"/>
<line x1="477.95" y1="385.00" x2="658.10" y2="385.00" stroke="#545454" stroke-width="1.6"/>
<line x1="477.95" y1="417.80" x2="658.10" y2="417.80" stroke="#545454" stroke-width="1.6"/>
<line x1="477.95" y1="431.30" x2="658.10" y2="431.30" stroke="#545454" stroke-width="1.6"/>
<line x1="477.95" y1="446.40" x2="658.10" y2="446.40" stroke="#545454" stroke-width="1.6"/>
<line x1="477.95" y1="272.35" x2="477.95" y2="453.80" stroke="#545454" stroke-width="0.9"/>
<line x1="658.10" y1="272.35" x2="658.10" y2="453.80" stroke="#545454" stroke-width="1.25"/>
<line x1="477.50" y1="272.95" x2="658.70" y2="272.95" stroke="#545454" stroke-width="1.15"/>
<line x1="477.50" y1="453.10" x2="658.70" y2="453.10" stroke="#545454" stroke-width="1.3"/>
<path d="M462.95,320.05 L464.65,320.05 L464.65,309.95 L463.30,309.95 C463.05,311.10 461.70,311.80 460.85,312.10 L460.85,313.05 C461.60,313.05 462.85,312.80 462.95,312.40 Z" fill="#111"/>
<path d="M519.05,473.55 L520.75,473.55 L520.75,463.45 L519.40,463.45 C519.15,464.60 517.80,465.30 516.95,465.60 L516.95,466.55 C517.70,466.55 518.95,466.30 519.05,465.90 Z" fill="#111"/>
<text x="463.90" y="376.00" font-size="14" text-anchor="middle" fill="#111" stroke="#111" stroke-width="0.12" >2</text>
<text x="576.00" y="473.50" font-size="14" text-anchor="middle" fill="#111" stroke="#111" stroke-width="0.12" >2</text>
<text x="463.90" y="406.90" font-size="14" text-anchor="middle" fill="#111" stroke="#111" stroke-width="0.12" >3</text>
<text x="606.90" y="473.50" font-size="14" text-anchor="middle" fill="#111" stroke="#111" stroke-width="0.12" >3</text>
<text x="463.90" y="430.20" font-size="14" text-anchor="middle" fill="#111" stroke="#111" stroke-width="0.12" >4</text>
<text x="630.20" y="473.50" font-size="14" text-anchor="middle" fill="#111" stroke="#111" stroke-width="0.12" >4</text>
<text x="463.90" y="444.10" font-size="14" text-anchor="middle" fill="#111" stroke="#111" stroke-width="0.12" >5</text>
<text x="644.10" y="473.50" font-size="14" text-anchor="middle" fill="#111" stroke="#111" stroke-width="0.12" >5</text>
<text x="463.90" y="455.00" font-size="14" text-anchor="middle" fill="#111" stroke="#111" stroke-width="0.12" >6</text>
<text x="655.00" y="473.50" font-size="14" text-anchor="middle" fill="#111" stroke="#111" stroke-width="0.12" >6</text>
<text transform="translate(128.00,15.70) scale(0.94,1)" x="0" y="0" font-size="14.4" text-anchor="middle" fill="#111" stroke="#111" stroke-width="0.12">ECX<tspan font-size="10.2" dx="0.8" dy="3">Rhea</tspan></text>
<text transform="translate(347.40,15.70) scale(0.94,1)" x="0" y="0" font-size="14.4" text-anchor="middle" fill="#111" stroke="#111" stroke-width="0.12">ECXY<tspan font-size="10.2" dx="0.8" dy="3">Rhea</tspan></text>
<text transform="translate(568.00,15.70) scale(0.94,1)" x="0" y="0" font-size="14.4" text-anchor="middle" fill="#111" stroke="#111" stroke-width="0.12">ECXYZ<tspan font-size="10.2" dx="0.8" dy="3">Rhea</tspan></text>
<text transform="translate(127.00,256.00) scale(0.94,1)" x="0" y="0" font-size="14.4" text-anchor="middle" fill="#111" stroke="#111" stroke-width="0.12">ECX<tspan font-size="10.2" dx="0.8" dy="3">ECREACT</tspan></text>
<text transform="translate(347.60,256.00) scale(0.94,1)" x="0" y="0" font-size="14.4" text-anchor="middle" fill="#111" stroke="#111" stroke-width="0.12">ECXY<tspan font-size="10.2" dx="0.8" dy="3">ECREACT</tspan></text>
<text transform="translate(567.90,256.00) scale(0.94,1)" x="0" y="0" font-size="14.4" text-anchor="middle" fill="#111" stroke="#111" stroke-width="0.12">ECXYZ<tspan font-size="10.2" dx="0.8" dy="3">ECREACT</tspan></text>
<text x="19.50" y="14.60" font-size="20.5" text-anchor="start" fill="#111" stroke="#111" stroke-width="0" >a</text>
<text x="239.00" y="14.60" font-size="20.5" text-anchor="start" fill="#111" stroke="#111" stroke-width="0" >b</text>
<text x="459.00" y="14.60" font-size="20.5" text-anchor="start" fill="#111" stroke="#111" stroke-width="0" >c</text>
<text x="19.50" y="254.80" font-size="20.5" text-anchor="start" fill="#111" stroke="#111" stroke-width="0" >d</text>
<text x="239.00" y="254.80" font-size="20.5" text-anchor="start" fill="#111" stroke="#111" stroke-width="0" >e</text>
<text x="459.00" y="254.80" font-size="20.5" text-anchor="start" fill="#111" stroke="#111" stroke-width="0" >f</text>
<text x="0" y="0" font-size="14" text-anchor="middle" fill="#111" stroke="#111" stroke-width="0.3" transform="translate(10.6,240) rotate(-90)">Ground Truth EC Class</text>
<text x="351.30" y="494.50" font-size="14" text-anchor="middle" fill="#111" stroke="#111" stroke-width="0.12" >Predicted EC Class</text>
</svg>
</body></html>
